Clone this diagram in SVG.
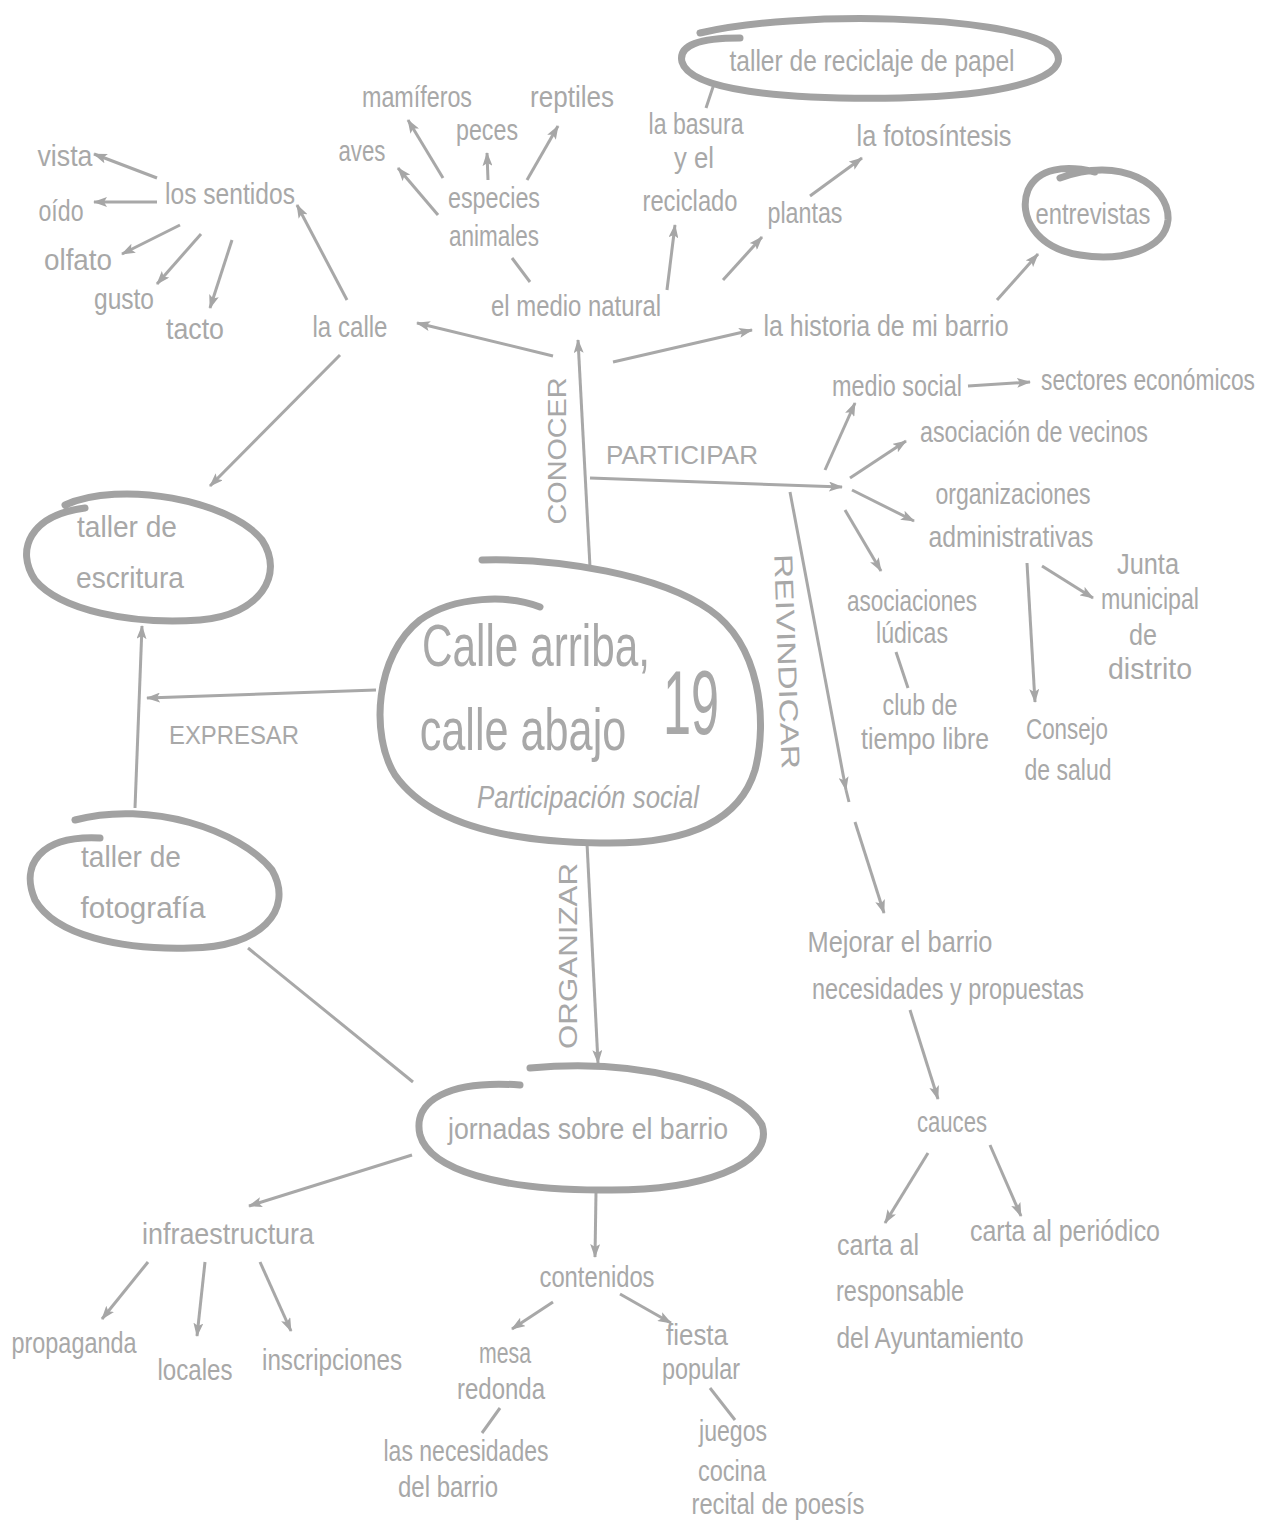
<svg xmlns="http://www.w3.org/2000/svg" width="1276" height="1526" viewBox="0 0 1276 1526">
<defs>
<marker id="ah" viewBox="0 0 14 10" refX="13" refY="5" markerWidth="14" markerHeight="10" markerUnits="userSpaceOnUse" orient="auto">
<path d="M0,0 L14,5 L0,10 L3,5 z" fill="#a6a6a6"/>
</marker>
<style>
text{font-family:"Liberation Sans","DejaVu Sans",sans-serif;fill:#a8a8a8;font-size:30px;text-anchor:middle}
.cap{font-size:26px}
.big{font-size:60px}
.it{font-style:italic;font-size:32px}
.ring{fill:none;stroke:#a2a2a2;stroke-width:7;stroke-linecap:round}
#connectors line,#connectors path{stroke:#a8a8a8;stroke-width:3;fill:none}
.a{marker-end:url(#ah)}
</style>
</defs>
<rect width="1276" height="1526" fill="#ffffff"/>

<g id="connectors">
<line class="a" x1="590" y1="567" x2="578" y2="340"/>
<line class="a" x1="553" y1="356" x2="417" y2="323"/>
<line class="a" x1="613" y1="362" x2="752" y2="330"/>
<line x1="530" y1="282" x2="512" y2="258"/>
<line class="a" x1="667" y1="290" x2="675" y2="225"/>
<line class="a" x1="723" y1="280" x2="762" y2="237"/>
<line class="a" x1="810" y1="196" x2="862" y2="158"/>
<line x1="706" y1="108" x2="714" y2="84"/>
<line class="a" x1="438" y1="215" x2="398" y2="168"/>
<line class="a" x1="443" y1="178" x2="408" y2="120"/>
<line class="a" x1="488" y1="180" x2="487" y2="153"/>
<line class="a" x1="527" y1="180" x2="558" y2="126"/>
<line class="a" x1="997" y1="300" x2="1038" y2="254"/>
<line class="a" x1="347" y1="300" x2="297" y2="205"/>
<line class="a" x1="157" y1="178" x2="94" y2="154"/>
<line class="a" x1="157" y1="202" x2="94" y2="202"/>
<line class="a" x1="180" y1="225" x2="122" y2="254"/>
<line class="a" x1="201" y1="234" x2="157" y2="284"/>
<line class="a" x1="232" y1="240" x2="210" y2="308"/>
<line class="a" x1="340" y1="355" x2="210" y2="486"/>
<line class="a" x1="590" y1="478" x2="842" y2="487"/>
<line class="a" x1="825" y1="470" x2="855" y2="403"/>
<line class="a" x1="850" y1="478" x2="906" y2="441"/>
<line class="a" x1="852" y1="490" x2="914" y2="521"/>
<line class="a" x1="845" y1="510" x2="881" y2="571"/>
<line class="a" x1="968" y1="386" x2="1030" y2="382"/>
<line class="a" x1="790" y1="492" x2="846" y2="790"/>
<line x1="846" y1="790" x2="849" y2="802"/>
<line class="a" x1="855" y1="822" x2="884" y2="913"/>
<line class="a" x1="1027" y1="563" x2="1035" y2="702"/>
<line class="a" x1="1042" y1="566" x2="1093" y2="598"/>
<line x1="896" y1="652" x2="908" y2="688"/>
<line class="a" x1="376" y1="690" x2="147" y2="698"/>
<line class="a" x1="135" y1="808" x2="142" y2="626"/>
<line x1="248" y1="948" x2="413" y2="1082"/>
<line class="a" x1="587" y1="843" x2="598" y2="1063"/>
<line class="a" x1="910" y1="1010" x2="938" y2="1099"/>
<line class="a" x1="928" y1="1153" x2="885" y2="1223"/>
<line class="a" x1="990" y1="1145" x2="1021" y2="1216"/>
<line class="a" x1="412" y1="1155" x2="249" y2="1206"/>
<line class="a" x1="596" y1="1192" x2="595" y2="1257"/>
<line class="a" x1="148" y1="1262" x2="102" y2="1319"/>
<line class="a" x1="205" y1="1262" x2="197" y2="1336"/>
<line class="a" x1="260" y1="1262" x2="291" y2="1331"/>
<line class="a" x1="553" y1="1302" x2="512" y2="1329"/>
<line class="a" x1="620" y1="1294" x2="671" y2="1323"/>
<line x1="500" y1="1408" x2="482" y2="1433"/>
<line x1="710" y1="1388" x2="735" y2="1420"/>
</g>

<g id="central">
<path class="ring" stroke-width="9" d="M482 560 C560 558 660 575 710 610 C760 645 768 720 755 770 C740 820 690 845 600 843 C510 842 430 825 395 775 C370 735 375 655 420 620 C455 595 510 595 540 607"/>
<text class="big" transform="translate(536,666) scale(0.705,1)">Calle arriba,</text>
<text class="big" transform="translate(523,750) scale(0.72,1)">calle abajo</text>
<text transform="translate(691,734) scale(0.56,1)" style="font-size:90px">19</text>
<text class="it" x="588" y="808" textLength="222" lengthAdjust="spacingAndGlyphs">Participación social</text>
</g>

<g id="labels">
<text class="cap" transform="translate(566,451) rotate(-90)" textLength="147" lengthAdjust="spacingAndGlyphs">CONOCER</text>
<text class="cap" x="682" y="464" textLength="152" lengthAdjust="spacingAndGlyphs">PARTICIPAR</text>
<text class="cap" transform="translate(778,662) rotate(88)" textLength="215" lengthAdjust="spacingAndGlyphs">REIVINDICAR</text>
<text class="cap" x="234" y="744" textLength="130" lengthAdjust="spacingAndGlyphs">EXPRESAR</text>
<text class="cap" transform="translate(577,956) rotate(-90)" textLength="186" lengthAdjust="spacingAndGlyphs">ORGANIZAR</text>
</g>

<g id="n-reciclaje">
<path class="ring" stroke-width="8" d="M700 33 C800 10 1000 15 1050 45 C1080 70 1030 95 900 98 C780 100 690 90 682 62 C678 45 700 38 740 38"/>
<text x="872" y="71" textLength="285" lengthAdjust="spacingAndGlyphs">taller de reciclaje de papel</text>
</g>
<g id="n-entrevistas">
<path class="ring" d="M1060 178 C1120 155 1170 185 1168 220 C1165 250 1120 262 1080 255 C1035 248 1018 215 1028 190 C1038 168 1065 165 1095 172"/>
<text x="1093" y="224" textLength="115" lengthAdjust="spacingAndGlyphs">entrevistas</text>
</g>
<g id="n-escritura">
<path class="ring" d="M65 505 C120 480 230 500 262 540 C285 575 260 615 200 620 C130 625 60 610 35 580 C15 550 30 515 85 508"/>
<text x="127" y="537" textLength="100" lengthAdjust="spacingAndGlyphs">taller de</text>
<text x="130" y="588" textLength="108" lengthAdjust="spacingAndGlyphs">escritura</text>
</g>
<g id="n-fotografia">
<path class="ring" d="M75 820 C150 800 240 830 272 870 C295 910 260 948 190 948 C120 950 55 935 35 900 C20 865 40 835 100 838"/>
<text x="131" y="867" textLength="100" lengthAdjust="spacingAndGlyphs">taller de</text>
<text x="143" y="918" textLength="125" lengthAdjust="spacingAndGlyphs">fotografía</text>
</g>
<g id="n-jornadas">
<path class="ring" d="M530 1068 C640 1058 740 1085 762 1125 C775 1165 700 1192 600 1190 C500 1190 430 1170 420 1135 C412 1100 450 1080 520 1085"/>
<text x="588" y="1139" textLength="280" lengthAdjust="spacingAndGlyphs">jornadas sobre el barrio</text>
</g>

<g id="n-mamiferos"><text x="417" y="107" textLength="110" lengthAdjust="spacingAndGlyphs">mamíferos</text></g>
<g id="n-reptiles"><text x="572" y="107" textLength="84" lengthAdjust="spacingAndGlyphs">reptiles</text></g>
<g id="n-peces"><text x="487" y="140" textLength="62" lengthAdjust="spacingAndGlyphs">peces</text></g>
<g id="n-aves"><text x="362" y="161" textLength="47" lengthAdjust="spacingAndGlyphs">aves</text></g>
<g id="n-especies"><text x="494" y="208" textLength="92" lengthAdjust="spacingAndGlyphs">especies</text><text x="494" y="246" textLength="90" lengthAdjust="spacingAndGlyphs">animales</text></g>
<g id="n-medio-natural"><text x="576" y="316" textLength="170" lengthAdjust="spacingAndGlyphs">el medio natural</text></g>
<g id="n-basura"><text x="696" y="134" textLength="95" lengthAdjust="spacingAndGlyphs">la basura</text><text x="694" y="168" textLength="40" lengthAdjust="spacingAndGlyphs">y el</text><text x="690" y="211" textLength="95" lengthAdjust="spacingAndGlyphs">reciclado</text></g>
<g id="n-fotosintesis"><text x="934" y="146" textLength="155" lengthAdjust="spacingAndGlyphs">la fotosíntesis</text></g>
<g id="n-plantas"><text x="805" y="223" textLength="75" lengthAdjust="spacingAndGlyphs">plantas</text></g>
<g id="n-historia"><text x="886" y="336" textLength="245" lengthAdjust="spacingAndGlyphs">la historia de mi barrio</text></g>
<g id="n-vista"><text x="65" y="166" textLength="55" lengthAdjust="spacingAndGlyphs">vista</text></g>
<g id="n-oido"><text x="61" y="221" textLength="45" lengthAdjust="spacingAndGlyphs">oído</text></g>
<g id="n-olfato"><text x="78" y="270" textLength="68" lengthAdjust="spacingAndGlyphs">olfato</text></g>
<g id="n-gusto"><text x="124" y="309" textLength="60" lengthAdjust="spacingAndGlyphs">gusto</text></g>
<g id="n-tacto"><text x="195" y="339" textLength="58" lengthAdjust="spacingAndGlyphs">tacto</text></g>
<g id="n-sentidos"><text x="230" y="204" textLength="130" lengthAdjust="spacingAndGlyphs">los sentidos</text></g>
<g id="n-calle"><text x="350" y="337" textLength="75" lengthAdjust="spacingAndGlyphs">la calle</text></g>
<g id="n-medio-social"><text x="897" y="396" textLength="130" lengthAdjust="spacingAndGlyphs">medio social</text></g>
<g id="n-sectores"><text transform="translate(1148,390) scale(0.76,1)">sectores económicos</text></g>
<g id="n-vecinos"><text x="1034" y="442" textLength="228" lengthAdjust="spacingAndGlyphs">asociación de vecinos</text></g>
<g id="n-organizaciones"><text x="1013" y="504" textLength="155" lengthAdjust="spacingAndGlyphs">organizaciones</text><text x="1011" y="547" textLength="165" lengthAdjust="spacingAndGlyphs">administrativas</text></g>
<g id="n-ludicas"><text x="912" y="611" textLength="130" lengthAdjust="spacingAndGlyphs">asociaciones</text><text x="912" y="643" textLength="72" lengthAdjust="spacingAndGlyphs">lúdicas</text></g>
<g id="n-club"><text x="920" y="715" textLength="75" lengthAdjust="spacingAndGlyphs">club de</text><text x="925" y="749" textLength="128" lengthAdjust="spacingAndGlyphs">tiempo libre</text></g>
<g id="n-junta"><text x="1148" y="574" textLength="62" lengthAdjust="spacingAndGlyphs">Junta</text><text x="1150" y="609" textLength="98" lengthAdjust="spacingAndGlyphs">municipal</text><text x="1143" y="645" textLength="28" lengthAdjust="spacingAndGlyphs">de</text><text x="1150" y="679" textLength="84" lengthAdjust="spacingAndGlyphs">distrito</text></g>
<g id="n-consejo"><text x="1067" y="739" textLength="82" lengthAdjust="spacingAndGlyphs">Consejo</text><text x="1068" y="780" textLength="87" lengthAdjust="spacingAndGlyphs">de salud</text></g>
<g id="n-mejorar"><text x="900" y="952" textLength="185" lengthAdjust="spacingAndGlyphs">Mejorar el barrio</text><text x="948" y="999" textLength="272" lengthAdjust="spacingAndGlyphs">necesidades y propuestas</text></g>
<g id="n-cauces"><text x="952" y="1132" textLength="70" lengthAdjust="spacingAndGlyphs">cauces</text></g>
<g id="n-carta-resp"><text x="878" y="1255" textLength="82" lengthAdjust="spacingAndGlyphs">carta al</text><text x="900" y="1301" textLength="128" lengthAdjust="spacingAndGlyphs">responsable</text><text x="930" y="1348" textLength="187" lengthAdjust="spacingAndGlyphs">del Ayuntamiento</text></g>
<g id="n-carta-per"><text x="1065" y="1241" textLength="190" lengthAdjust="spacingAndGlyphs">carta al periódico</text></g>
<g id="n-infra"><text x="228" y="1244" textLength="172" lengthAdjust="spacingAndGlyphs">infraestructura</text></g>
<g id="n-contenidos"><text x="597" y="1287" textLength="115" lengthAdjust="spacingAndGlyphs">contenidos</text></g>
<g id="n-propaganda"><text x="74" y="1353" textLength="125" lengthAdjust="spacingAndGlyphs">propaganda</text></g>
<g id="n-locales"><text x="195" y="1380" textLength="75" lengthAdjust="spacingAndGlyphs">locales</text></g>
<g id="n-inscripciones"><text x="332" y="1370" textLength="140" lengthAdjust="spacingAndGlyphs">inscripciones</text></g>
<g id="n-mesa"><text x="505" y="1363" textLength="52" lengthAdjust="spacingAndGlyphs">mesa</text><text x="501" y="1399" textLength="88" lengthAdjust="spacingAndGlyphs">redonda</text></g>
<g id="n-fiesta"><text x="697" y="1345" textLength="62" lengthAdjust="spacingAndGlyphs">fiesta</text><text x="701" y="1379" textLength="78" lengthAdjust="spacingAndGlyphs">popular</text></g>
<g id="n-necesidades"><text x="466" y="1461" textLength="165" lengthAdjust="spacingAndGlyphs">las necesidades</text><text x="448" y="1497" textLength="100" lengthAdjust="spacingAndGlyphs">del barrio</text></g>
<g id="n-juegos"><text x="733" y="1441" textLength="68" lengthAdjust="spacingAndGlyphs">juegos</text><text x="732" y="1481" textLength="68" lengthAdjust="spacingAndGlyphs">cocina</text><text x="778" y="1514" textLength="173" lengthAdjust="spacingAndGlyphs">recital de poesís</text></g>
</svg>
